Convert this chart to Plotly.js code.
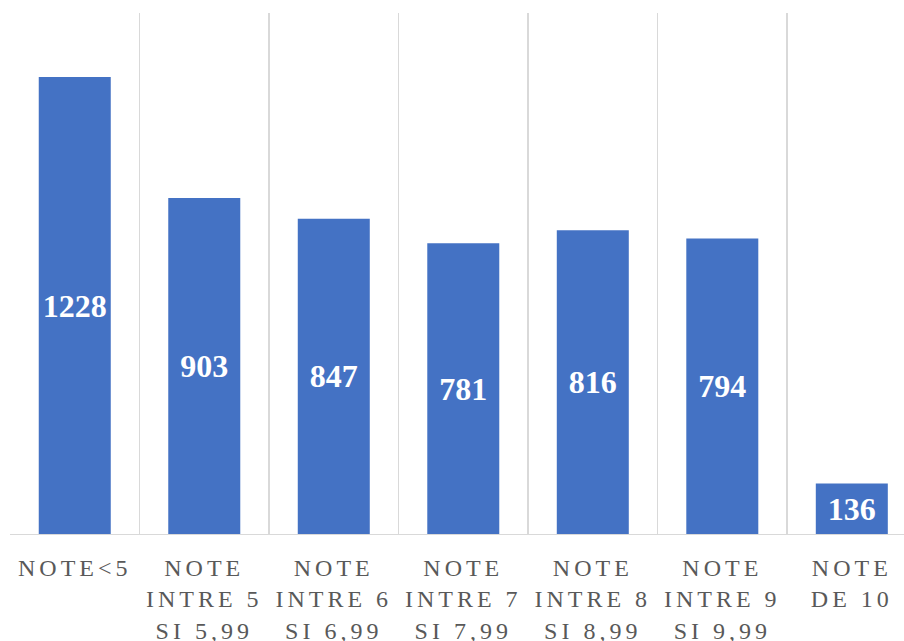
<!DOCTYPE html>
<html>
<head>
<meta charset="utf-8">
<script src="https://cdn.plot.ly/plotly-3.0.1.min.js"></script>
<style>
html,body{margin:0;padding:0;background:#fff;}
#chart{width:904px;height:641px;}
.xtick text{letter-spacing:4px;}
</style>
</head>
<body>
<div id="chart"></div>
<script>
const categories = ["NOTE<5","NOTE<br>INTRE 5<br>SI 5,99","NOTE<br>INTRE 6<br>SI 6,99","NOTE<br>INTRE 7<br>SI 7,99","NOTE<br>INTRE 8<br>SI 8,99","NOTE<br>INTRE 9<br>SI 9,99","NOTE<br>DE 10"];
const values = [1228, 903, 847, 781, 816, 794, 136];

const trace = {
  type: 'bar',
  x: categories,
  y: values,
  text: values.map(String),
  textposition: 'inside',
  insidetextanchor: 'middle',
  textangle: 0,
  constraintext: 'none',
  textfont: {family: '"Liberation Serif", "Times New Roman", serif', size: 32, color: '#ffffff', weight: 'bold'},
  marker: {color: '#4472C4'},
  hoverinfo: 'none'
};

const layout = {
  width: 904, height: 641,
  margin: {l: 10, r: 0, t: 13, b: 107},
  paper_bgcolor: '#ffffff', plot_bgcolor: '#ffffff',
  bargap: 0.444,
  showlegend: false,
  xaxis: {
    type: 'category',
    range: [-0.5, 6.403],
    tickson: 'boundaries',
    showgrid: true, gridcolor: '#d9d9d9', gridwidth: 1.3,
    showline: true, linecolor: '#d9d9d9', linewidth: 1.3,
    ticks: '', ticklen: 0,
    ticklabelstandoff: 12,
    tickangle: 0,
    tickfont: {family: '"Liberation Serif", "Times New Roman", serif', size: 24, color: '#595959'},
    fixedrange: true
  },
  yaxis: {
    range: [0, 1400],
    showgrid: false, zeroline: false, showticklabels: false, showline: false,
    fixedrange: true
  }
};

Plotly.newPlot('chart', [trace], layout, {displayModeBar: false, staticPlot: true});
</script>
</body>
</html>
